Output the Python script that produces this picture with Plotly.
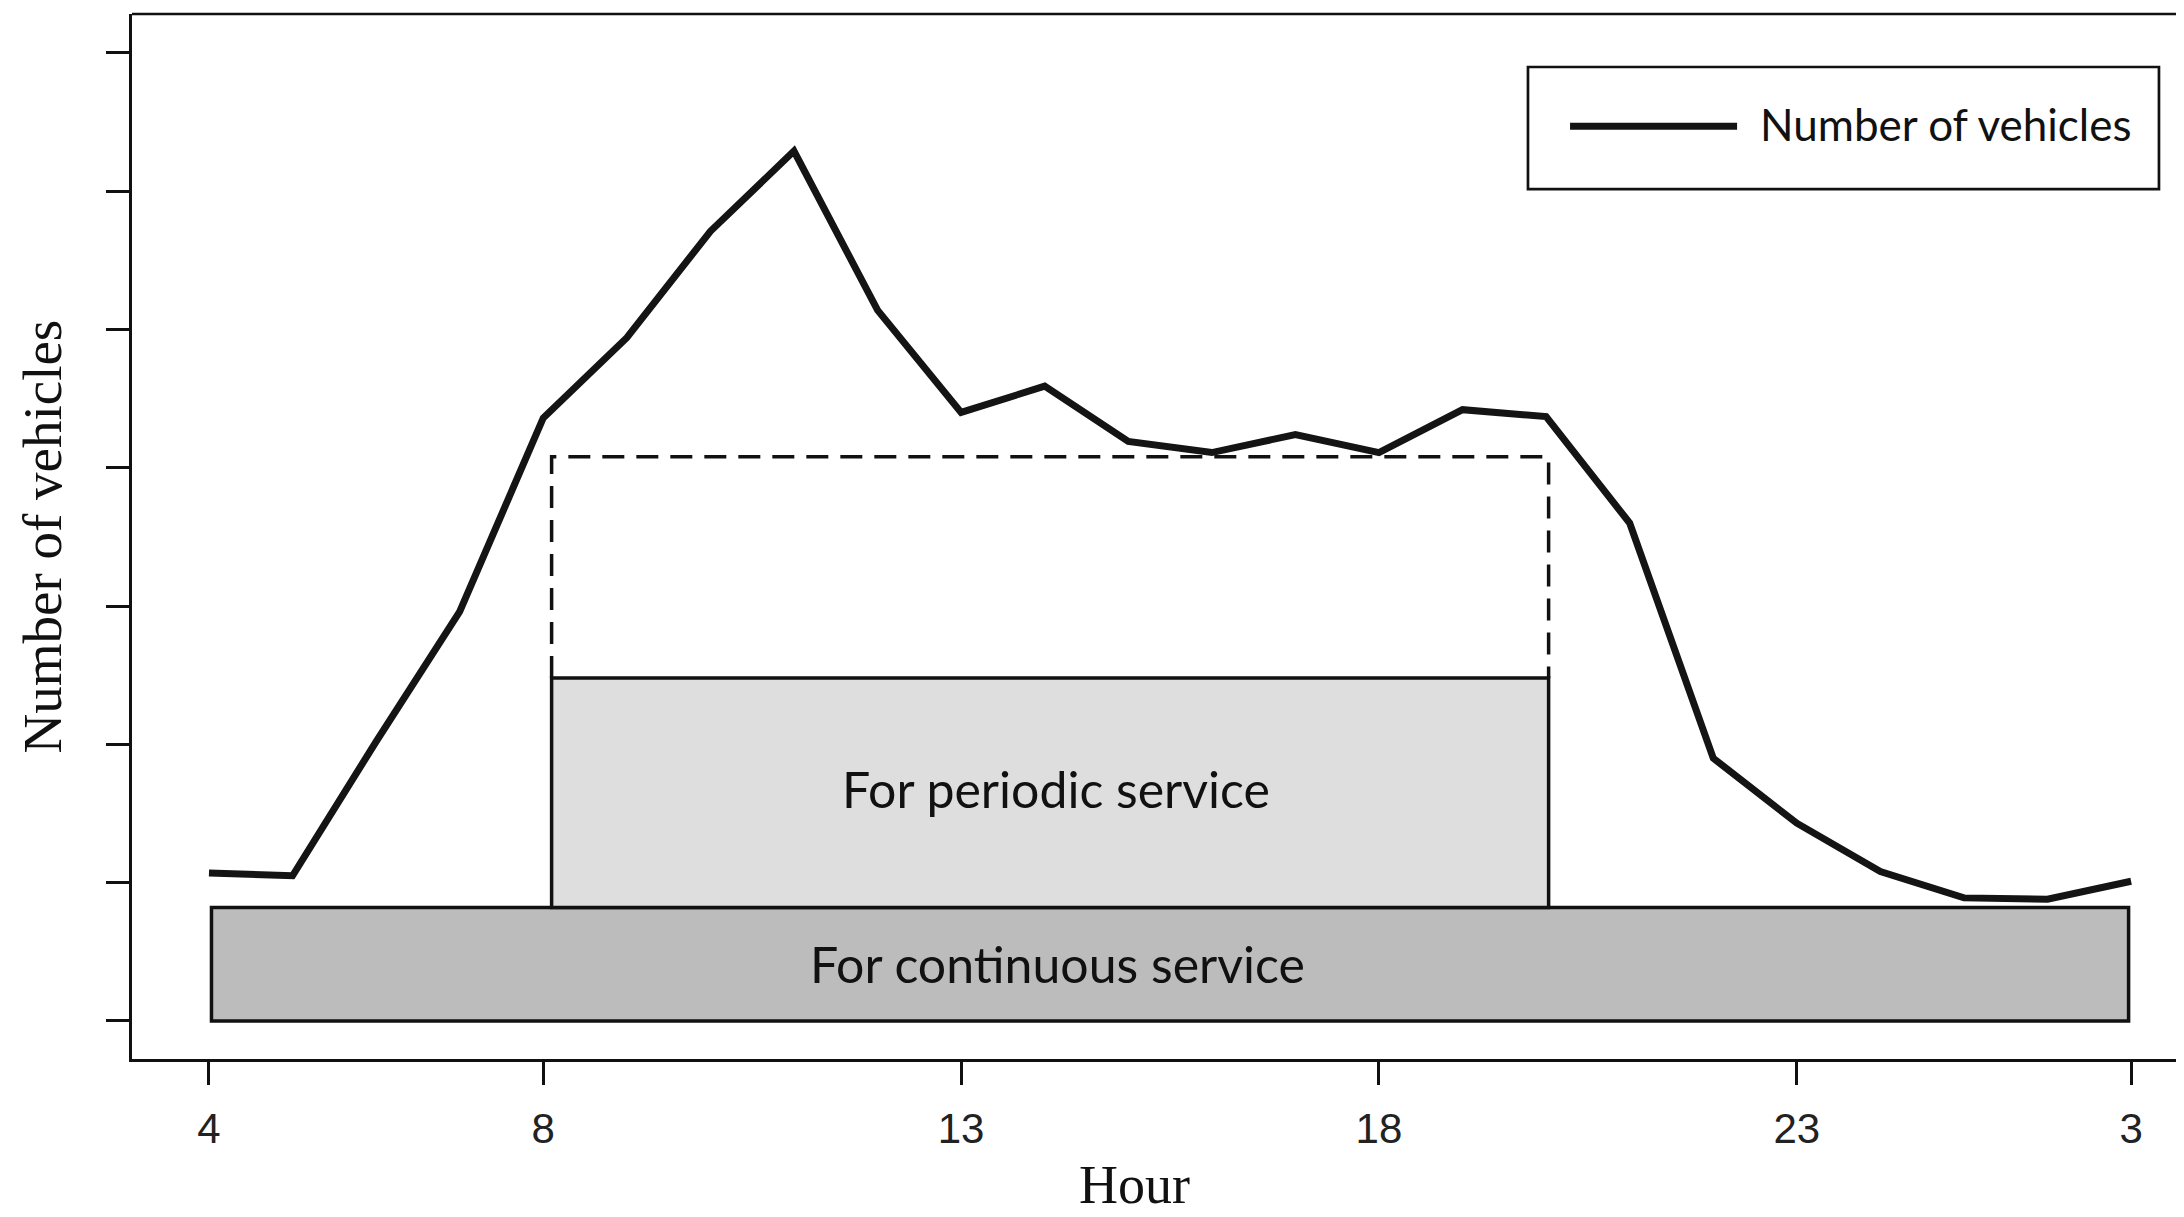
import plotly.graph_objects as go

# ---- data ----
hours = list(range(4, 28))  # 4 .. 27 (27 = 3 a.m. next day)
vehicles = [1.07, 1.05, 2.02, 2.96, 4.36, 4.94, 5.71, 6.29, 5.14, 4.40, 4.59, 4.19,
            4.11, 4.24, 4.11, 4.42, 4.37, 3.60, 1.90, 1.43, 1.08, 0.89, 0.88, 1.01]

x_tick_vals = [4, 8, 13, 18, 23, 27]
x_tick_text = ["4", "8", "13", "18", "23", "3"]
y_tick_vals = [0, 1, 2, 3, 4, 5, 6, 7]

continuous_span = [4.03, 26.97]
continuous_level = [0.0, 0.82]
periodic_span = [8.1, 20.03]
periodic_level = [0.82, 2.48]
peak_level = [2.48, 4.08]

series_name = "Number of vehicles"
periodic_label = "For periodic service"
continuous_label = "For continuous service"
x_title = "Hour"
y_title = "Number of vehicles"

# page is 2184x1217; the browser body keeps an 8 px margin, so the figure is
# made 8 px smaller and the left/top margins are reduced by the same amount
BODY = 8
W, H = 2184 - BODY, 1217 - BODY
ML, MR, MT, MB = 132 - BODY, 0, 14 - BODY, 158
PW = W - ML - MR   # plot width in px
PH = H - MT - MB   # plot height in px

SERIF = "Liberation Serif, Times New Roman, serif"
SANS = "Liberation Sans, Arial, sans-serif"
CAL = "Lato, Open Sans, sans-serif"
INK = "#111111"

fig = go.Figure()

# continuous-service block
fig.add_shape(type="rect", xref="x", yref="y",
              x0=continuous_span[0], x1=continuous_span[1],
              y0=continuous_level[0], y1=continuous_level[1],
              fillcolor="#bcbcbc", line=dict(color=INK, width=3.5), layer="above")
# periodic-service block
fig.add_shape(type="rect", xref="x", yref="y",
              x0=periodic_span[0], x1=periodic_span[1],
              y0=periodic_level[0], y1=periodic_level[1],
              fillcolor="#dedede", line=dict(color=INK, width=3.5), layer="above")

# dashed peak outline (open at bottom)
fig.add_trace(go.Scatter(
    x=[periodic_span[0], periodic_span[0], periodic_span[1], periodic_span[1]],
    y=[peak_level[0], peak_level[1], peak_level[1], peak_level[0]],
    mode="lines", line=dict(color=INK, width=3.5, dash="22px,12px"),
    showlegend=False, hoverinfo="skip"))

# vehicle curve
fig.add_trace(go.Scatter(x=hours, y=vehicles, mode="lines", name=series_name,
                         line=dict(color="#141414", width=7), showlegend=False))

# block labels
mid_periodic = (periodic_span[0] + periodic_span[1]) / 2
fig.add_annotation(x=mid_periodic, y=(periodic_level[0] + periodic_level[1]) / 2,
                   xref="x", yref="y", text=periodic_label, showarrow=False,
                   xshift=6, yshift=4,
                   font=dict(family=CAL, size=50, color=INK))
fig.add_annotation(x=mid_periodic, y=(continuous_level[0] + continuous_level[1]) / 2,
                   xref="x", yref="y", text=continuous_label, showarrow=False,
                   xshift=7,
                   font=dict(family=CAL, size=50, color=INK))

# manual legend box
fig.add_shape(type="rect", xref="paper", yref="paper",
              x0=0.6803, x1=0.9878, y0=0.8325, y1=0.9493,
              fillcolor="white", line=dict(color=INK, width=2.7), layer="above")
fig.add_shape(type="line", xref="paper", yref="paper",
              x0=0.7008, x1=0.7822, y0=0.8925, y1=0.8925,
              line=dict(color="#141414", width=7), layer="above")
fig.add_annotation(x=0.7924, y=0.8950, xref="paper", yref="paper", xanchor="left",
                   yanchor="middle", text=series_name, showarrow=False,
                   font=dict(family=CAL, size=44, color=INK))

# top border of box
fig.add_shape(type="line", xref="paper", yref="paper", x0=0, x1=1, y0=1, y1=1,
              line=dict(color=INK, width=2.7))

# axis titles
fig.add_annotation(x=(1134 - 132) / PW, y=-(1185 - 1059) / PH, xref="paper", yref="paper",
                   text=x_title, showarrow=False, xanchor="center", yanchor="middle",
                   borderpad=0,
                   font=dict(family=SERIF, size=54, color=INK))
fig.add_annotation(x=-(132 - 42) / PW, y=0.5, xref="paper", yref="paper",
                   text=y_title, showarrow=False, textangle=-90,
                   xanchor="center", yanchor="middle",
                   font=dict(family=SERIF, size=55, color=INK))

fig.update_layout(
    width=W, height=H,
    margin=dict(l=ML, r=MR, t=MT, b=MB, pad=0),
    plot_bgcolor="white", paper_bgcolor="white",
    showlegend=False,
    xaxis=dict(range=[3.079, 27.633], tickmode="array", tickvals=x_tick_vals,
               ticktext=x_tick_text, ticks="outside", ticklen=23, tickwidth=2.7,
               tickcolor=INK, showline=True, linecolor=INK, linewidth=2.7,
               showgrid=False, zeroline=False, ticklabelstandoff=8,
               tickfont=dict(family=SANS, size=42, color="#222222")),
    yaxis=dict(range=[-0.275, 7.281], tickmode="array", tickvals=y_tick_vals,
               showticklabels=False, ticks="outside", ticklen=23, tickwidth=2.7,
               tickcolor=INK, showline=True, linecolor=INK, linewidth=2.7,
               showgrid=False, zeroline=False),
)

fig.write_html("out.html")
